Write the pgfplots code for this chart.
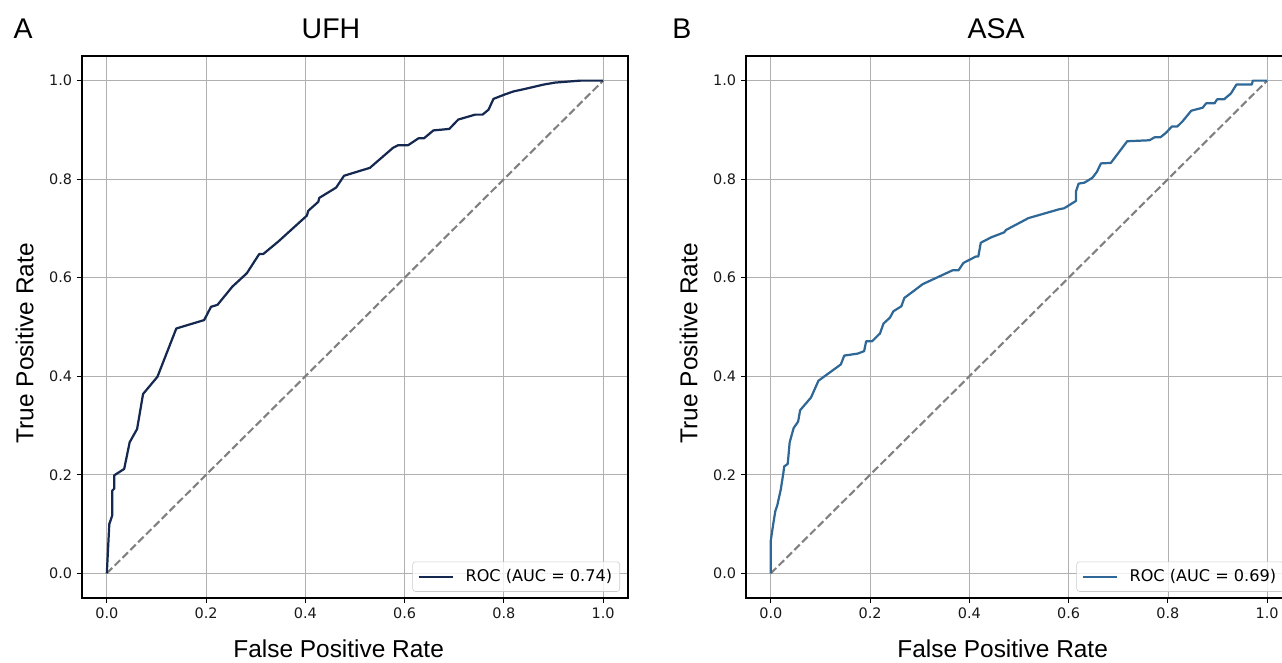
\documentclass[border=0pt]{standalone}
\usepackage{fontspec}
\setmainfont{Liberation Sans}
\newfontfamily\dejavu{DejaVu Sans}
\usepackage{pgfplots}
\pgfplotsset{compat=1.18}
\usepackage{pgfplotstable}

\definecolor{ufhline}{HTML}{142850}
\definecolor{asaline}{HTML}{2F6896}
\definecolor{gridgray}{HTML}{B0B0B0}

% ROC curves (fpr, tpr)
\pgfplotstableread{
fpr tpr
0 0
0.005 0.100
0.011 0.118
0.011 0.168
0.015 0.172
0.015 0.199
0.035 0.212
0.046 0.266
0.061 0.293
0.073 0.364
0.102 0.399
0.140 0.497
0.196 0.514
0.210 0.541
0.223 0.545
0.253 0.582
0.282 0.609
0.307 0.648
0.315 0.648
0.345 0.673
0.403 0.726
0.406 0.736
0.426 0.754
0.428 0.762
0.454 0.778
0.462 0.783
0.478 0.807
0.530 0.823
0.577 0.864
0.587 0.869
0.607 0.869
0.628 0.883
0.639 0.883
0.658 0.899
0.690 0.902
0.708 0.921
0.742 0.931
0.757 0.931
0.769 0.941
0.779 0.963
0.802 0.972
0.819 0.978
0.846 0.984
0.880 0.992
0.903 0.996
0.954 1.000
1.000 1.000
}\ufh

\pgfplotstableread{
fpr tpr
0 0
0 0.067
0.005 0.101
0.009 0.126
0.013 0.138
0.020 0.170
0.025 0.202
0.027 0.217
0.034 0.222
0.038 0.266
0.046 0.295
0.055 0.308
0.059 0.331
0.081 0.357
0.096 0.391
0.141 0.424
0.148 0.442
0.175 0.446
0.188 0.451
0.192 0.471
0.204 0.471
0.220 0.487
0.227 0.507
0.240 0.519
0.247 0.532
0.263 0.542
0.269 0.559
0.289 0.574
0.306 0.587
0.366 0.615
0.378 0.615
0.388 0.630
0.413 0.643
0.418 0.643
0.423 0.671
0.444 0.682
0.470 0.692
0.474 0.697
0.519 0.721
0.581 0.739
0.591 0.741
0.615 0.756
0.615 0.776
0.620 0.791
0.632 0.793
0.648 0.803
0.657 0.815
0.665 0.832
0.685 0.833
0.718 0.877
0.763 0.879
0.773 0.885
0.785 0.885
0.796 0.894
0.808 0.907
0.819 0.907
0.830 0.918
0.847 0.939
0.870 0.945
0.877 0.954
0.894 0.954
0.899 0.962
0.913 0.962
0.927 0.974
0.938 0.992
0.969 0.992
0.971 1.000
1.000 1.000
}\asa

\pgfplotstableread{
fpr tpr
0 0
1 1
}\chance

\pgfplotsset{
  rocaxis/.style={
    width=393.12pt, height=390.24pt, scale only axis,
    xmin=-0.05, xmax=1.05, ymin=-0.05, ymax=1.05,
    clip=false,
    xtick={0,0.2,0.4,0.6,0.8,1.0},
    ytick={0,0.2,0.4,0.6,0.8,1.0},
    /pgf/number format/.cd, fixed, fixed zerofill, precision=1, assume math mode=true,
    /pgfplots/.cd,
    tick label style={font=\dejavu\fontsize{10.4}{12}\selectfont, text=black!90},
    grid=major,
    grid style={color=gridgray, line width=0.6pt},
    axis line style={line width=0.8pt},
    tick align=outside, tick pos=left,
    major tick length=3.6pt,
    tick style={black, line width=0.8pt},
    xlabel={False Positive Rate},
    ylabel={True Positive Rate},
    label style={font=\fontsize{17.6}{20}\selectfont},
    xlabel style={at={(rel axis cs:0.47,0)}, anchor=base, yshift=-42.5pt},
    ylabel style={at={(rel axis cs:0,0.47)}, anchor=base, yshift=35pt},
    legend style={at={(1,0)}, anchor=south east, xshift=-5.76pt, yshift=4.5pt,
      draw=black!20, rounded corners=2pt, fill=white, fill opacity=0.8, text opacity=1,
      font=\dejavu\fontsize{11.6}{13}\selectfont, inner xsep=3.5pt, inner ysep=3.5pt,
      cells={anchor=west}},
    legend image code/.code={\draw[#1] (0pt,0pt) -- (25pt,0pt); \path (31pt,0pt);},
  },
  chance/.style={color=gray, line width=1.5pt, dash pattern=on 5.55pt off 2.4pt, forget plot},
}

\begin{document}
\begin{tikzpicture}
\begin{axis}[rocaxis, at={(59.04pt,46.08pt)}, anchor=south west]
  \addplot[chance] table[x=fpr, y=tpr] {\chance};
  \addplot[color=ufhline, line width=1.6pt, line join=round] table[x=fpr, y=tpr] {\ufh};
  \addlegendentry{ROC (AUC = 0.74)}
  \node[anchor=base, font=\fontsize{20.5}{24}\selectfont] at (rel axis cs:0.456,1) [yshift=12.7pt] {UFH};
  \node[anchor=base west, inner xsep=0pt, font=\fontsize{20.5}{24}\selectfont] at (rel axis cs:0,1) [xshift=-49.5pt, yshift=12.7pt] {A};
\end{axis}
\begin{axis}[rocaxis, at={(537.12pt,46.08pt)}, anchor=south west]
  \addplot[chance] table[x=fpr, y=tpr] {\chance};
  \addplot[color=asaline, line width=1.6pt, line join=round] table[x=fpr, y=tpr] {\asa};
  \addlegendentry{ROC (AUC = 0.69)}
  \node[anchor=base, font=\fontsize{20.5}{24}\selectfont] at (rel axis cs:0.458,1) [yshift=12.7pt] {ASA};
  \node[anchor=base west, inner xsep=0pt, font=\fontsize{20.5}{24}\selectfont] at (rel axis cs:0,1) [xshift=-53.3pt, yshift=12.7pt] {B};
\end{axis}
\pgfresetboundingbox
\path[use as bounding box] (0pt,0pt) rectangle (923.04pt,476.64pt);
\end{tikzpicture}
\end{document}
